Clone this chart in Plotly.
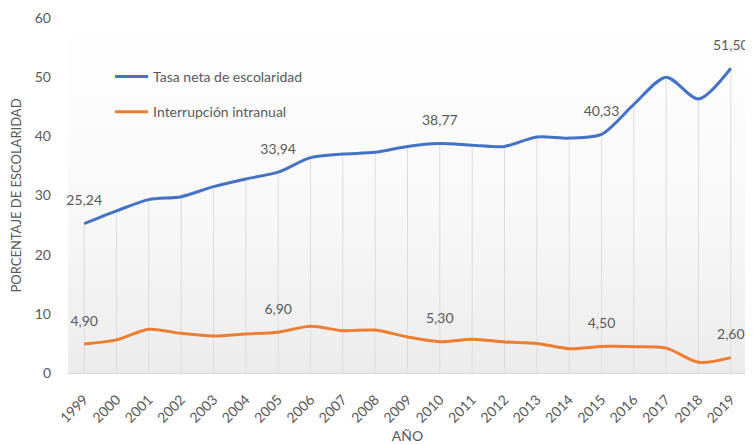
import plotly.graph_objects as go

# data
years = [str(y) for y in range(1999, 2020)]
tasa_neta = [25.24, 27.4, 29.3, 29.8, 31.5, 32.8, 33.94, 36.4, 37.0, 37.3, 38.3,
             38.77, 38.5, 38.3, 39.9, 39.7, 40.33, 45.4, 50.0, 46.3, 51.50]
interrupcion = [4.90, 5.6, 7.4, 6.7, 6.25, 6.6, 6.90, 7.9, 7.15, 7.25, 6.1,
                5.30, 5.7, 5.25, 5.0, 4.1, 4.50, 4.45, 4.2, 1.8, 2.60]
label_years = ["1999", "2005", "2010", "2015", "2019"]
y_ticks = [0, 10, 20, 30, 40, 50, 60]

BLUE = "#4472C4"
ORANGE = "#ED7D31"
TEXT = "#595959"
FONT = "Lato"

fig = go.Figure()

# soft gradient behind the plot area (hidden linear axis underneath)
fig.add_trace(go.Scatter(
    x=[0, 1, 1, 0, 0], y=[0, 0, 60, 60, 0],
    xaxis="x", yaxis="y",
    mode="lines", line=dict(width=0),
    fill="toself",
    fillgradient=dict(type="vertical",
                      colorscale=[[0, "#ececec"], [0.45, "#f8f8f8"], [1, "#ffffff"]]),
    hoverinfo="skip", showlegend=False,
))

# drop lines from the upper series down to the axis
fig.add_trace(go.Scatter(
    x=years, y=tasa_neta, xaxis="x2", yaxis="y",
    mode="markers", marker=dict(size=0.1, opacity=0),
    error_y=dict(type="data", symmetric=False, array=[0] * len(years),
                 arrayminus=tasa_neta, width=0, thickness=1, color="#dcdcdc"),
    hoverinfo="skip", showlegend=False,
))

fig.add_trace(go.Scatter(
    x=years, y=tasa_neta, xaxis="x2", yaxis="y",
    name="Tasa neta de escolaridad", legendgroup="a",
    mode="lines", line=dict(color=BLUE, width=3, shape="spline", smoothing=0.8),
))
fig.add_trace(go.Scatter(
    x=years, y=interrupcion, xaxis="x2", yaxis="y",
    name="Interrupción intranual", legendgroup="b",
    mode="lines", line=dict(color=ORANGE, width=3, shape="spline", smoothing=0.8),
))

# data labels above selected points
for series in (tasa_neta, interrupcion):
    vals = [series[years.index(yr)] for yr in label_years]
    fig.add_trace(go.Scatter(
        x=label_years, y=vals, xaxis="x2", yaxis="y",
        mode="markers+text",
        marker=dict(size=22, opacity=0),
        text=[f"{v:.2f}".replace(".", ",") for v in vals],
        textposition="top center",
        textfont=dict(family=FONT, size=14, color=TEXT),
        hoverinfo="skip", showlegend=False, cliponaxis=False,
    ))

# page body adds an 8px offset, so the figure is 8px smaller than the window
fig.update_layout(
    width=745, height=436,
    margin=dict(l=60, r=6, t=10, b=71, autoexpand=False),
    paper_bgcolor="white",
    plot_bgcolor="white",
    font=dict(family=FONT, size=13, color=TEXT),
    showlegend=True,
    legend=dict(
        x=0.062, y=0.879, xanchor="left", yanchor="top",
        bgcolor="rgba(0,0,0,0)",
        itemwidth=33,
        traceorder="grouped", tracegroupgap=14,
        font=dict(family=FONT, size=14, color=TEXT),
    ),
    xaxis=dict(range=[0, 1], visible=False, fixedrange=True),
    xaxis2=dict(
        overlaying="x", type="category",
        range=[-0.5, 20.5],
        tickangle=-45, automargin=False,
        ticklabelstandoff=12,
        tickfont=dict(family=FONT, size=14, color=TEXT),
        showgrid=False, zeroline=False,
        showline=True, linecolor="#d9d9d9", linewidth=1,
        ticks="",
        title=dict(text="AÑO", standoff=6,
                   font=dict(family=FONT, size=14, color=TEXT)),
    ),
    yaxis=dict(
        range=[0, 60], tickvals=y_ticks, automargin=False,
        showgrid=False, zeroline=False, showline=False,
        ticklabelstandoff=16,
        tickfont=dict(family=FONT, size=14, color=TEXT),
        title=dict(text="PORCENTAJE DE ESCOLARIDAD", standoff=10,
                   font=dict(family=FONT, size=13, color=TEXT)),
    ),
)

fig.write_html("out.html")
